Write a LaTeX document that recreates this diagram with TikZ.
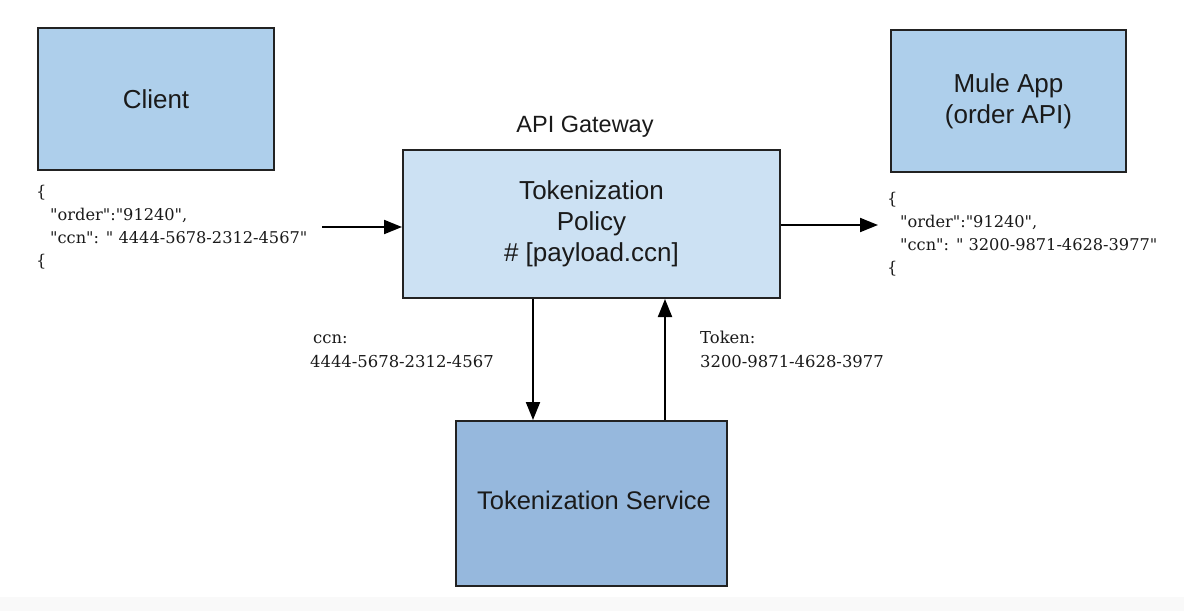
\documentclass[tikz,border=0pt]{standalone}
\usepackage{fontspec}
\setmainfont{Liberation Sans}
\newfontfamily\jsonfont{DejaVu Serif}
\usetikzlibrary{arrows.meta}
\definecolor{boxa}{HTML}{AECFEB}
\definecolor{boxb}{HTML}{CCE1F3}
\definecolor{boxc}{HTML}{96B8DD}
\definecolor{edge}{HTML}{222222}
\definecolor{txt}{HTML}{1A1A1A}
\definecolor{band}{HTML}{F9F9F9}
\tikzset{
  box/.style={draw=edge, line width=2pt, rectangle, inner sep=0pt, text=txt, align=center,
    font={\fontsize{26}{31}\selectfont}},
  json/.style={inner sep=0pt, align=left, text=txt, font={\jsonfont\fontsize{16.2}{23}\selectfont}},
  lbl/.style={inner sep=0pt, align=left, text=txt, font={\jsonfont\fontsize{16.4}{24}\selectfont}},
  conn/.style={draw=black, line width=2pt, -{Triangle[length=18pt,width=14pt]}},
}
\begin{document}
\begin{tikzpicture}[x=1pt,y=-1pt]
\useasboundingbox (0,0) rectangle (1184,611);
\fill[white] (0,0) rectangle (1184,611);
\fill[band] (0,597) rectangle (1184,611);

\node[box, fill=boxa, minimum width=236pt, minimum height=142pt] (client) at (156,99) {Client};
\node[box, fill=boxa, minimum width=235pt, minimum height=142pt] (mule) at (1008.5,101) {Mule App\\(order API)};
\node[box, fill=boxb, minimum width=377pt, minimum height=148pt] (policy) at (591.5,224) {Tokenization\\Policy\\\# [payload.ccn]};
\node[box, fill=boxc, minimum width=271pt, minimum height=165pt] (svc) at (591.5,503.5) {};
\node[inner sep=0pt, anchor=base, text=txt, font={\fontsize{25.5}{30}\selectfont}] (svct) at (594,509) {Tokenization Service};

\node[inner sep=0pt, anchor=base, text=txt, font={\fontsize{23.5}{28}\selectfont}] (gw) at (585,132) {API Gateway};

\node[json, anchor=north west] (cjson) at (36,181) {\strut\{\\\strut\hspace{14pt}"order":"91240",\\\strut\hspace{14pt}"ccn": " 4444-5678-2312-4567"\\\strut\{};
\node[json, anchor=north west] (mjson) at (887,188) {\strut\{\\\strut\hspace{13pt}"order":"91240",\\\strut\hspace{13pt}"ccn": " 3200-9871-4628-3977"\\\strut\{};

\node[lbl, anchor=north west] (lccn) at (310,326.2) {\strut\hspace{3pt}ccn:\\\strut 4444-5678-2312-4567};
\node[lbl, anchor=north west] (ltok) at (700,326.2) {\strut Token:\\\strut 3200-9871-4628-3977};

\coordinate (lstart) at (322,227);
\coordinate (rend) at (878,225);
\coordinate (dx) at (533,0);
\coordinate (ux) at (665,0);

\draw[conn] (lstart) -- (lstart -| policy.west);
\draw[conn] (rend -| policy.east) -- (rend);
\draw[conn] (dx |- policy.south) -- (dx |- svc.north);
\draw[conn] (ux |- svc.north) -- (ux |- policy.south);
\end{tikzpicture}
\end{document}
